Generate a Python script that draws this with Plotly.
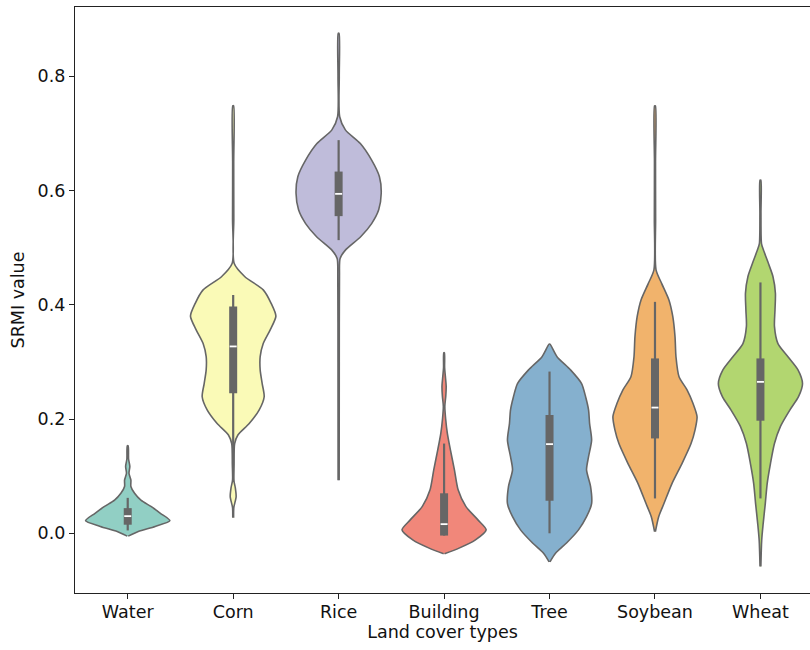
import plotly.graph_objects as go

categories = ["Water", "Corn", "Rice", "Building", "Tree", "Soybean", "Wheat"]
fill_colors = ["#91cfc4", "#fafab7", "#bfbcda", "#f1877a", "#85b0ce", "#f1b36c", "#b2d670"]
edge_gray = "#666666"

# Violin outlines: SRMI value (ascending) and half-width (category units)
water_y = [-0.005, 0.003, 0.012, 0.022, 0.035, 0.047, 0.058, 0.070, 0.082, 0.093, 0.105, 0.117, 0.130, 0.153]
water_w = [0.005, 0.10, 0.26, 0.40, 0.31, 0.22, 0.125, 0.065, 0.03, 0.03, 0.012, 0.02, 0.008, 0.004]

corn_y = [0.027, 0.045, 0.064, 0.080, 0.093, 0.120, 0.157, 0.172, 0.192, 0.216, 0.239, 0.262, 0.286,
          0.309, 0.332, 0.356, 0.380, 0.402, 0.426, 0.449, 0.472, 0.55, 0.65, 0.748]
corn_w = [0.004, 0.006, 0.028, 0.02, 0.006, 0.008, 0.014, 0.045, 0.152, 0.247, 0.294, 0.275, 0.256,
          0.256, 0.285, 0.351, 0.405, 0.361, 0.285, 0.111, 0.01, 0.006, 0.005, 0.004]

rice_y = [0.093, 0.30, 0.45, 0.481, 0.496, 0.519, 0.542, 0.566, 0.595, 0.624, 0.653, 0.682, 0.706, 0.729, 0.80, 0.875]
rice_w = [0.005, 0.006, 0.008, 0.014, 0.066, 0.209, 0.313, 0.380, 0.404, 0.387, 0.313, 0.206, 0.064, 0.01, 0.006, 0.004]

building_y = [-0.036, -0.026, -0.012, 0.006, 0.023, 0.047, 0.076, 0.111, 0.146, 0.175, 0.200, 0.222,
              0.240, 0.257, 0.275, 0.290, 0.316]
building_w = [0.004, 0.142, 0.294, 0.399, 0.323, 0.206, 0.133, 0.098, 0.060, 0.031, 0.015, 0.007,
              0.016, 0.02, 0.012, 0.005, 0.003]

tree_y = [-0.050, -0.035, -0.017, 0.006, 0.029, 0.052, 0.082, 0.111, 0.134, 0.163, 0.192, 0.216,
          0.239, 0.262, 0.286, 0.309, 0.331]
tree_w = [0.004, 0.057, 0.161, 0.275, 0.351, 0.399, 0.389, 0.351, 0.370, 0.399, 0.380, 0.370,
          0.342, 0.304, 0.199, 0.071, 0.004]

soybean_y = [0.003, 0.029, 0.052, 0.087, 0.122, 0.157, 0.181, 0.204, 0.227, 0.251, 0.274, 0.309,
             0.344, 0.379, 0.408, 0.437, 0.461, 0.55, 0.65, 0.748]
soybean_w = [0.004, 0.035, 0.085, 0.161, 0.256, 0.342, 0.380, 0.399, 0.361, 0.304, 0.228, 0.199,
             0.190, 0.169, 0.133, 0.064, 0.01, 0.006, 0.005, 0.004]

wheat_y = [-0.058, -0.012, 0.017, 0.052, 0.087, 0.122, 0.157, 0.187, 0.216, 0.239, 0.262, 0.286,
           0.309, 0.332, 0.362, 0.391, 0.420, 0.449, 0.472, 0.496, 0.507, 0.56, 0.618]
wheat_w = [0.004, 0.012, 0.026, 0.046, 0.064, 0.095, 0.133, 0.190, 0.280, 0.361, 0.399, 0.356,
           0.261, 0.166, 0.133, 0.138, 0.142, 0.119, 0.076, 0.028, 0.01, 0.005, 0.004]

outline_y = [water_y, corn_y, rice_y, building_y, tree_y, soybean_y, wheat_y]
outline_w = [water_w, corn_w, rice_w, building_w, tree_w, soybean_w, wheat_w]

# Inner box statistics
whisker_low = [0.005, 0.090, 0.513, -0.004, 0.000, 0.061, 0.061]
q1 = [0.015, 0.245, 0.555, -0.004, 0.057, 0.166, 0.197]
median = [0.030, 0.327, 0.594, 0.016, 0.156, 0.220, 0.265]
q3 = [0.044, 0.397, 0.633, 0.070, 0.207, 0.306, 0.306]
whisker_high = [0.062, 0.417, 0.688, 0.157, 0.283, 0.405, 0.439]

fig = go.Figure()

for i, cat in enumerate(categories):
    ys = outline_y[i]
    ws = outline_w[i]
    px = [i + w for w in ws] + [i - w for w in reversed(ws)]
    py = list(ys) + list(reversed(ys))
    fig.add_trace(go.Scatter(
        x=px, y=py, mode="lines", fill="toself", fillcolor=fill_colors[i],
        line=dict(color=edge_gray, width=1.6, shape="spline", smoothing=0.7),
        hoverinfo="skip", showlegend=False, name=cat))
    # whisker line
    fig.add_trace(go.Scatter(
        x=[i, i], y=[whisker_low[i], whisker_high[i]], mode="lines",
        line=dict(color=edge_gray, width=2.2), hoverinfo="skip", showlegend=False))
    # box
    fig.add_trace(go.Scatter(
        x=[i, i], y=[q1[i], q3[i]], mode="lines",
        line=dict(color=edge_gray, width=8), hoverinfo="skip", showlegend=False))
    # median
    fig.add_trace(go.Scatter(
        x=[i], y=[median[i]], mode="markers",
        marker=dict(symbol="line-ew", size=5, color="white", line=dict(color="white", width=1.8)),
        hoverinfo="skip", showlegend=False))

axis_font = dict(family="DejaVu Sans", size=17.5, color="#111111")

fig.update_layout(
    width=810, height=650,
    margin=dict(l=75, r=0, t=7, b=57, autoexpand=False),
    plot_bgcolor="white", paper_bgcolor="white",
    font=axis_font,
    xaxis=dict(
        range=[-0.5, 6.47], tickmode="array", tickvals=list(range(len(categories))), ticktext=categories,
        showgrid=False, zeroline=False, showline=True, linecolor="#222222", linewidth=1.3, mirror=True,
        ticks="outside", ticklen=5, tickwidth=1.2, tickcolor="#222222", automargin=False,
        ticklabelstandoff=-2,
        title=dict(text="Land cover types", font=axis_font, standoff=2),
        tickfont=axis_font),
    yaxis=dict(
        range=[-0.1045, 0.921], tickmode="array", tickvals=[0.0, 0.2, 0.4, 0.6, 0.8],
        ticktext=["0.0", "0.2", "0.4", "0.6", "0.8"],
        showgrid=False, zeroline=False, showline=True, linecolor="#222222", linewidth=1.3, mirror=False,
        ticks="outside", ticklen=5, tickwidth=1.2, tickcolor="#222222", automargin=False,
        title=dict(text="SRMI value", font=axis_font, standoff=8),
        tickfont=axis_font),
)

fig.write_html("out.html", config={"displayModeBar": False},
               post_script="document.body.style.margin='0px';")
